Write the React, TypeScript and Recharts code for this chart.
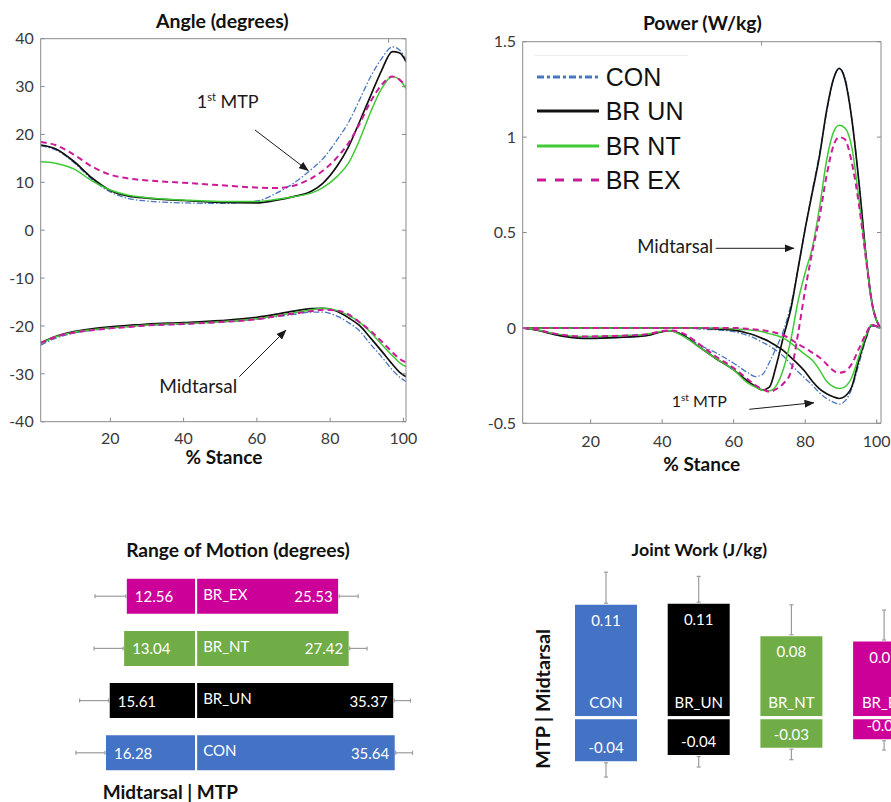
import React from 'react';
import {
  LineChart, Line, XAxis, YAxis, Legend,
  BarChart, Bar, Cell, ErrorBar, LabelList,
} from 'recharts';

// ---------------- Angle (degrees) ----------------
const angleStance = [1, 5, 10, 15, 20, 25, 30, 40, 50, 60, 65, 70, 75, 78, 82, 85, 88, 91, 94, 97, 99, 100.7];
const conMtpAngle = [17.6, 16.8, 14.2, 10.6, 8.0, 6.6, 6.1, 5.7, 5.6, 6.1, 7.6, 9.8, 12.8, 14.9, 19.0, 22.5, 27.2, 32.0, 35.8, 38.3, 37.6, 35.5];
const unMtpAngle = [17.8, 17.0, 14.4, 10.9, 8.3, 7.1, 6.7, 6.2, 5.8, 5.7, 6.2, 7.0, 8.2, 9.8, 13.5, 17.4, 22.6, 28.0, 33.3, 37.3, 37.0, 35.2];
const ntMtpAngle = [14.3, 14.0, 12.8, 10.3, 8.4, 7.3, 6.8, 6.3, 6.0, 6.0, 6.4, 7.0, 7.8, 8.9, 11.3, 14.0, 18.8, 24.6, 29.5, 32.1, 31.4, 29.6];
const exMtpAngle = [18.4, 17.8, 15.8, 13.3, 11.6, 10.8, 10.4, 9.9, 9.4, 8.9, 8.8, 9.3, 10.9, 12.4, 15.3, 18.2, 22.2, 26.8, 30.3, 32.1, 31.4, 30.0];
const conMidAngle = [-24.0, -22.6, -21.5, -20.9, -20.5, -20.2, -19.9, -19.6, -19.2, -18.6, -18.1, -17.6, -17.1, -17.1, -18.0, -19.3, -21.0, -23.8, -26.4, -29.2, -30.7, -31.6];
const unMidAngle = [-23.5, -22.2, -21.2, -20.6, -20.2, -19.9, -19.6, -19.3, -18.9, -18.2, -17.6, -16.9, -16.4, -16.3, -17.0, -18.3, -19.9, -22.5, -25.2, -28.0, -29.7, -30.6];
const ntMidAngle = [-23.6, -22.3, -21.3, -20.8, -20.4, -20.1, -19.8, -19.5, -19.1, -18.5, -17.9, -17.3, -16.6, -16.3, -16.8, -17.8, -19.2, -21.3, -23.8, -26.2, -27.7, -28.5];
const exMidAngle = [-23.6, -22.3, -21.4, -20.9, -20.5, -20.2, -19.9, -19.6, -19.2, -18.6, -18.0, -17.4, -16.9, -16.6, -16.8, -17.6, -19.2, -21.0, -23.2, -25.5, -26.9, -27.6];

// ---------------- Power (W/kg) ----------------
const powerStance = [1, 5, 10, 18, 25, 35, 42, 46, 50, 55, 60, 64, 66, 68, 70, 72, 74, 76, 78, 80, 82, 84, 86, 88, 89.5, 91, 93, 95, 97, 98.5, 101];
const conMidPower = [0, -0.012, -0.035, -0.055, -0.052, -0.042, -0.015, -0.035, -0.085, -0.13, -0.185, -0.235, -0.255, -0.245, -0.18, -0.1, -0.01, 0.12, 0.31, 0.52, 0.72, 0.91, 1.13, 1.31, 1.36, 1.32, 1.1, 0.77, 0.38, 0.16, 0];
const unMidPower = [0, -0.012, -0.035, -0.055, -0.052, -0.042, -0.015, -0.04, -0.095, -0.16, -0.22, -0.28, -0.305, -0.325, -0.31, -0.19, -0.04, 0.1, 0.31, 0.52, 0.71, 0.9, 1.14, 1.31, 1.36, 1.31, 1.1, 0.77, 0.38, 0.15, 0];
const ntMidPower = [0, -0.01, -0.03, -0.045, -0.043, -0.035, -0.013, -0.045, -0.095, -0.16, -0.22, -0.29, -0.31, -0.325, -0.33, -0.3, -0.21, -0.06, 0.14, 0.29, 0.42, 0.63, 0.88, 1.03, 1.062, 1.05, 0.95, 0.68, 0.37, 0.15, 0];
const exMidPower = [0, -0.01, -0.03, -0.045, -0.043, -0.035, -0.013, -0.03, -0.08, -0.15, -0.21, -0.27, -0.3, -0.32, -0.335, -0.32, -0.29, -0.23, -0.03, 0.2, 0.4, 0.58, 0.8, 0.96, 1.0, 0.99, 0.87, 0.65, 0.36, 0.15, 0];
const conMtpPower = [0, 0, 0, 0, 0, 0, 0, 0, -0.005, -0.01, -0.02, -0.04, -0.055, -0.075, -0.095, -0.12, -0.15, -0.19, -0.23, -0.265, -0.3, -0.34, -0.37, -0.39, -0.4, -0.385, -0.32, -0.19, -0.06, 0.01, 0];
const unMtpPower = [0, 0, 0, 0, 0, 0, 0, 0, 0, -0.005, -0.012, -0.028, -0.04, -0.055, -0.072, -0.095, -0.12, -0.155, -0.19, -0.23, -0.28, -0.32, -0.345, -0.362, -0.37, -0.36, -0.31, -0.17, -0.05, 0.015, 0];
const ntMtpPower = [0, 0, 0, 0, 0, 0, 0, 0, 0, 0, -0.005, -0.01, -0.014, -0.02, -0.03, -0.04, -0.055, -0.08, -0.11, -0.14, -0.17, -0.22, -0.28, -0.31, -0.317, -0.31, -0.26, -0.15, -0.04, 0.015, 0];
const exMtpPower = [0, 0, 0, 0, 0, 0, 0, 0, 0, 0, 0, -0.005, -0.008, -0.012, -0.018, -0.027, -0.04, -0.06, -0.085, -0.105, -0.13, -0.155, -0.19, -0.225, -0.235, -0.23, -0.19, -0.11, -0.03, 0.015, 0];

// ---------------- Range of Motion (degrees) ----------------
const romGroups = ['BR_EX', 'BR_NT', 'BR_UN', 'CON'];
const romMidtarsal = [12.56, 13.04, 15.61, 16.28];
const romMtp = [25.53, 27.42, 35.37, 35.64];
const romMidtarsalSd = [5.5, 5.2, 5.2, 5.2];
const romMtpSd = [3.4, 3.1, 2.9, 3.0];

// ---------------- Joint Work (J/kg) ----------------
const workGroups = ['CON', 'BR_UN', 'BR_NT', 'BR_EX'];
const workMidtarsal = [0.109, 0.11, 0.079, 0.074];
const workMtp = [-0.043, -0.037, -0.03, -0.022];
const workMidtarsalSd = [0.0296, 0.0246, 0.0285, 0.0285];
const workMtpSd = [0.0135, 0.01, 0.01, 0.0088];

// ---------------- ticks ----------------
const stanceTicks = [20, 40, 60, 80, 100];
const angleTicks = [-40, -30, -20, -10, 0, 10, 20, 30, 40];
const powerTicks = [-0.5, 0, 0.5, 1, 1.5];

// ---------------- styles ----------------
const lineGroups = [
  { key: 'con', name: 'CON', color: '#4a76c0', width: 1.3, dash: '6 2 1.5 2', legendDash: '7 3 3 3' },
  { key: 'un', name: 'BR UN', color: '#111111', width: 1.7, dash: undefined, legendDash: undefined },
  { key: 'nt', name: 'BR NT', color: '#3fca35', width: 1.5, dash: undefined, legendDash: undefined },
  { key: 'ex', name: 'BR EX', color: '#cc1a99', width: 2, dash: '6 4', legendDash: '9 9' },
];
const groupColor: Record<string, string> = {
  CON: '#4472c4', BR_UN: '#000000', BR_NT: '#70ad47', BR_EX: '#cc0099',
};

const FONT = 'Lato, "Open Sans", sans-serif';
const AXIS = '#8a8a8a';
const tickStyle = { fontFamily: FONT, fontSize: 16, fill: '#3a3a3a' };
const blank = () => '';

const angleData = angleStance.map((s, i) => ({
  s,
  conMtp: conMtpAngle[i], unMtp: unMtpAngle[i], ntMtp: ntMtpAngle[i], exMtp: exMtpAngle[i],
  conMid: conMidAngle[i], unMid: unMidAngle[i], ntMid: ntMidAngle[i], exMid: exMidAngle[i],
}));
const powerData = powerStance.map((s, i) => ({
  s,
  conMtp: conMtpPower[i], unMtp: unMtpPower[i], ntMtp: ntMtpPower[i], exMtp: exMtpPower[i],
  conMid: conMidPower[i], unMid: unMidPower[i], ntMid: ntMidPower[i], exMid: exMidPower[i],
}));
const romData = romGroups.map((g, i) => ({
  group: g,
  mid: -romMidtarsal[i],
  mtp: romMtp[i],
  midErr: [romMidtarsalSd[i], 0],
  mtpErr: [0, romMtpSd[i]],
}));
const workData = workGroups.map((g, i) => ({
  group: g,
  mid: workMidtarsal[i],
  mtp: workMtp[i],
  midErr: [0, workMidtarsalSd[i]],
  mtpErr: [workMtpSd[i], 0],
}));

function rectOf(p: any) {
  const vb = p.viewBox && typeof p.viewBox.width === 'number' ? p.viewBox : p;
  const x = Number(vb.x), y = Number(vb.y), w = Number(vb.width), h = Number(vb.height);
  const left = Math.min(x, x + w), right = Math.max(x, x + w);
  const top = Math.min(y, y + h), bottom = Math.max(y, y + h);
  return { left, right, top, bottom, cx: (left + right) / 2, cy: (top + bottom) / 2 };
}

const labelText = { fontFamily: FONT, fontSize: 15, fill: '#ffffff' };

const RomLeftValue = (p: any) => {
  const r = rectOf(p);
  return <text x={r.left + 9} y={r.cy + 6} {...labelText} textAnchor="start">{Math.abs(Number(p.value)).toFixed(2)}</text>;
};
const RomName = (p: any) => {
  const r = rectOf(p);
  return <text x={r.left + 7} y={r.cy + 3.5} {...labelText} textAnchor="start">{p.value}</text>;
};
const RomRightValue = (p: any) => {
  const r = rectOf(p);
  return <text x={r.right - 6.5} y={r.cy + 6} {...labelText} textAnchor="end">{Number(p.value).toFixed(2)}</text>;
};
const WorkTopValue = (p: any) => {
  const r = rectOf(p);
  return <text x={r.cx} y={r.top + 22.5} {...labelText} textAnchor="middle">{Number(p.value).toFixed(2)}</text>;
};
const WorkName = (p: any) => {
  const r = rectOf(p);
  return <text x={r.cx} y={r.bottom - 9.5} {...labelText} textAnchor="middle">{p.value}</text>;
};
const WorkBottomValue = (p: any) => {
  const r = rectOf(p);
  return <text x={r.cx} y={r.bottom - 9.5} {...labelText} textAnchor="middle">{Number(p.value).toFixed(2)}</text>;
};

const PowerLegend = (props: any) => {
  const present = new Set(
    (props.payload || []).filter((e: any) => e.type !== 'none').map((e: any) => e.value),
  );
  const items = lineGroups.filter((g) => present.size === 0 || present.has(g.name));
  return (
    <div style={{ borderTop: '1px solid #ececec', paddingTop: 4, width: 153 }}>
      {items.map((g) => (
        <div key={g.name} style={{ display: 'flex', alignItems: 'center', height: 34.5 }}>
          <svg width={64} height={10} style={{ marginLeft: 1.7, display: 'block' }}>
            <line x1={0} y1={5} x2={62} y2={5} stroke={g.color} strokeWidth={3.2} strokeDasharray={g.legendDash} />
          </svg>
          <span style={{ marginLeft: 5, fontFamily: '"Liberation Sans", Arial, sans-serif', fontSize: 25, color: '#111', lineHeight: '34.5px' }}>
            {g.name}
          </span>
        </div>
      ))}
    </div>
  );
};

// box axes in MATLAB style: ticks pointing inward on all four sides
function boxAxes(domainX: number[], domainY: number[], ticksY: number[], leftW: number, bottomH: number, xMargin: number, yMargin: number) {
  return [
    <XAxis key="xb" xAxisId="b" dataKey="s" type="number" domain={domainX} ticks={stanceTicks} allowDataOverflow
      height={bottomH} stroke={AXIS} tickSize={-4} tickMargin={xMargin} tick={tickStyle} interval={0} />,
    <XAxis key="xt" xAxisId="t" orientation="top" type="number" domain={domainX} ticks={stanceTicks} allowDataOverflow
      height={1} stroke={AXIS} tickSize={-4} tickFormatter={blank} interval={0} />,
    <YAxis key="yl" yAxisId="l" type="number" domain={domainY} ticks={ticksY} allowDataOverflow
      width={leftW} stroke={AXIS} tickSize={-4} tickMargin={yMargin} tick={tickStyle} interval={0} />,
    <YAxis key="yr" yAxisId="r" orientation="right" type="number" domain={domainY} ticks={ticksY} allowDataOverflow
      width={1} stroke={AXIS} tickSize={-4} tickFormatter={blank} interval={0} />,
  ];
}

function seriesLines(withLegend: boolean) {
  const out: any[] = [];
  lineGroups.forEach((g) => {
    out.push(
      <Line key={g.key + 'Mtp'} xAxisId="b" yAxisId="l" type="monotone" dataKey={g.key + 'Mtp'} name={g.name}
        stroke={g.color} strokeWidth={g.width} strokeDasharray={g.dash} dot={false} activeDot={false}
        isAnimationActive={false} legendType={withLegend ? 'line' : 'none'} />,
    );
    out.push(
      <Line key={g.key + 'Mid'} xAxisId="b" yAxisId="l" type="monotone" dataKey={g.key + 'Mid'} name={g.name}
        stroke={g.color} strokeWidth={g.width} strokeDasharray={g.dash} dot={false} activeDot={false}
        isAnimationActive={false} legendType="none" />,
    );
  });
  return out;
}

export default function App() {
  const titleProps = { fontFamily: FONT, fontWeight: 700, fontSize: 19, fill: '#111', textAnchor: 'middle' as const };
  const annProps = { fontFamily: FONT, fill: '#1a1a1a' };
  return (
    <div style={{ position: 'fixed', left: 0, top: 0, width: 891, height: 802, overflow: 'hidden', background: '#fff' }}>
      {/* Angle */}
      <div style={{ position: 'absolute', left: 0, top: 0 }}>
        <LineChart width={440} height={480} data={angleData} margin={{ top: 37.7, right: 33, bottom: 0, left: 0 }}>
          {boxAxes([1, 100.7], [-40, 40], angleTicks, 40.7, 58.3, 15.2, 11)}
          {seriesLines(false)}
        </LineChart>
      </div>

      {/* Power */}
      <div style={{ position: 'absolute', left: 450, top: 0 }}>
        <LineChart width={441} height={480} data={powerData} margin={{ top: 40.7, right: 9, bottom: 0, left: 0 }}>
          {boxAxes([1, 101.2], [-0.5, 1.5], powerTicks, 72.7, 56.7, 16, 10.7)}
          {seriesLines(true)}
          <Legend layout="vertical" verticalAlign="middle" align="center"
            wrapperStyle={{ left: 85, top: 54.5, width: 153 }} content={PowerLegend} />
        </LineChart>
      </div>

      {/* Range of motion */}
      <div style={{ position: 'absolute', left: 0, top: 530 }}>
        <BarChart width={440} height={272} data={romData} layout="vertical"
          margin={{ top: 39.7, right: 19.85, bottom: 23.5, left: 56.15 }} barSize={37} barGap={-37}>
          <XAxis type="number" domain={[-25, 40]} hide />
          <YAxis type="category" dataKey="group" hide />
          <Bar dataKey="mid" stroke="#ffffff" strokeWidth={2} isAnimationActive={false}>
            {romData.map((d) => <Cell key={d.group} fill={groupColor[d.group]} />)}
            <ErrorBar dataKey="midErr" direction="x" width={2} stroke="#9c9c9c" strokeWidth={1.2} />
            <LabelList dataKey="mid" content={RomLeftValue} />
          </Bar>
          <Bar dataKey="mtp" stroke="#ffffff" strokeWidth={2} isAnimationActive={false}>
            {romData.map((d) => <Cell key={d.group} fill={groupColor[d.group]} />)}
            <ErrorBar dataKey="mtpErr" direction="x" width={2} stroke="#9c9c9c" strokeWidth={1.2} />
            <LabelList dataKey="group" content={RomName} />
            <LabelList dataKey="mtp" content={RomRightValue} />
          </Bar>
        </BarChart>
      </div>

      {/* Joint work */}
      <div style={{ position: 'absolute', left: 500, top: 530 }}>
        <BarChart width={440} height={272} data={workData}
          margin={{ top: 30.2, right: 9.7, bottom: 10.8, left: 59.5 }} barSize={65} barGap={-65}>
          <XAxis dataKey="group" hide />
          <YAxis type="number" domain={[-0.07, 0.15]} hide />
          <Bar dataKey="mid" stroke="#ffffff" strokeWidth={3} isAnimationActive={false}>
            {workData.map((d) => <Cell key={d.group} fill={groupColor[d.group]} />)}
            <ErrorBar dataKey="midErr" direction="y" width={2} stroke="#9c9c9c" strokeWidth={1.2} />
            <LabelList dataKey="mid" content={WorkTopValue} />
            <LabelList dataKey="group" content={WorkName} />
          </Bar>
          <Bar dataKey="mtp" stroke="#ffffff" strokeWidth={3} isAnimationActive={false}>
            {workData.map((d) => <Cell key={d.group} fill={groupColor[d.group]} />)}
            <ErrorBar dataKey="mtpErr" direction="y" width={2} stroke="#9c9c9c" strokeWidth={1.2} />
            <LabelList dataKey="mtp" content={WorkBottomValue} />
          </Bar>
        </BarChart>
      </div>

      {/* titles and annotations */}
      <svg width={891} height={802} style={{ position: 'absolute', left: 0, top: 0, pointerEvents: 'none' }}>
        <defs>
          <marker id="arrowHead" markerWidth={10} markerHeight={8} refX={9.5} refY={4} orient="auto" markerUnits="userSpaceOnUse">
            <path d="M0,0 L10,4 L0,8 z" fill="#1a1a1a" />
          </marker>
        </defs>
        <text x={222.3} y={28.3} {...titleProps} fontSize={19.5}>Angle (degrees)</text>
        <text x={702.3} y={30} {...titleProps} fontSize={19.3}>Power (W/kg)</text>
        <text x={224} y={464.3} {...titleProps}>% Stance</text>
        <text x={701.7} y={470.7} {...titleProps}>% Stance</text>
        <text x={238} y={556.7} {...titleProps} fontSize={19.2}>Range of Motion (degrees)</text>
        <text x={699.3} y={556} {...titleProps} fontSize={17.8}>Joint Work (J/kg)</text>
        <text x={102.7} y={799} {...titleProps} fontSize={19} textAnchor="start">Midtarsal | MTP</text>
        <text transform="translate(549.5,699) rotate(-90)" {...titleProps} fontSize={19.7}>MTP | Midtarsal</text>

        {/* angle annotations */}
        <text x={196.7} y={108.3} {...annProps} fontSize={18}>1<tspan dy={-7} fontSize={11}>st</tspan><tspan dy={7}> MTP</tspan></text>
        <line x1={255} y1={130} x2={308.3} y2={170.7} stroke="#1a1a1a" strokeWidth={1} markerEnd="url(#arrowHead)" />
        <text x={159.3} y={392.7} {...annProps} fontSize={19}>Midtarsal</text>
        <line x1={239.3} y1={376.7} x2={286} y2={330} stroke="#1a1a1a" strokeWidth={1} markerEnd="url(#arrowHead)" />

        {/* power annotations */}
        <text x={637.3} y={253.3} {...annProps} fontSize={18.5}>Midtarsal</text>
        <line x1={715.7} y1={248.3} x2={794} y2={248.3} stroke="#1a1a1a" strokeWidth={1} markerEnd="url(#arrowHead)" />
        <text x={671.7} y={406.7} {...annProps} fontSize={16}>1<tspan dy={-6} fontSize={10}>st</tspan><tspan dy={6}> MTP</tspan></text>
        <line x1={749.3} y1={409.3} x2={814} y2={402.7} stroke="#1a1a1a" strokeWidth={1} markerEnd="url(#arrowHead)" />
      </svg>
    </div>
  );
}
